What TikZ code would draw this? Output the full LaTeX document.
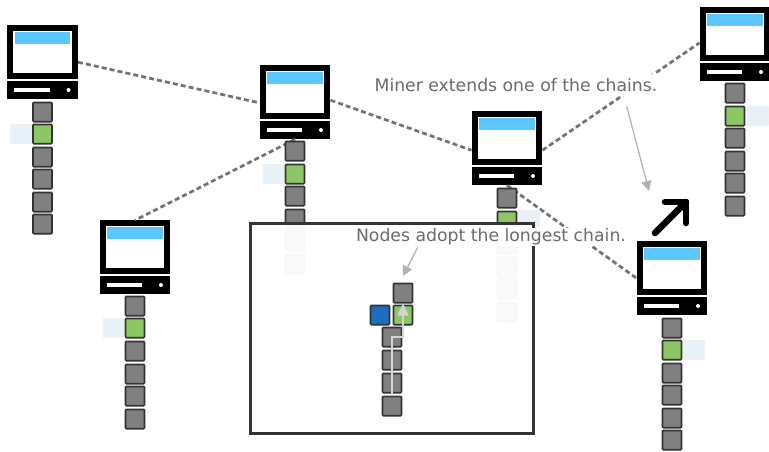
\documentclass[tikz,border=0pt]{standalone}
\usepackage{fontspec}
\setmainfont{DejaVu Sans}
\usetikzlibrary{arrows.meta}
\definecolor{screenblue}{RGB}{92,198,255}
\definecolor{blockgreen}{RGB}{140,198,101}
\definecolor{blockblue}{RGB}{26,111,192}
\definecolor{sideblue}{RGB}{232,240,248}
\definecolor{darkline}{RGB}{51,51,51}
\begin{document}
\begin{tikzpicture}
  [x=0.02cm,y=-0.02cm,
   monitor/.style={rectangle,draw=black,fill=white,line width=0.12cm,inner sep=0pt,minimum width=1.3cm,minimum height=0.95cm},
   bar/.style={rectangle,fill=screenblue,inner sep=0pt,minimum width=1.12cm,minimum height=0.24cm},
   case/.style={rectangle,fill=black,inner sep=0pt,minimum width=1.42cm,minimum height=0.36cm},
   slot/.style={rectangle,fill=white,inner sep=0pt,minimum width=0.72cm,minimum height=0.09cm},
   led/.style={circle,fill=white,inner sep=0pt,minimum size=0.08cm},
   block/.style={rectangle,rounded corners=0.02cm,draw=darkline,fill=gray,line width=0.035cm,inner sep=0pt,minimum size=0.385cm},
   good/.style={block,fill=blockgreen},
   mined/.style={block,fill=blockblue},
   side/.style={rectangle,draw=black!6,fill=sideblue,line width=0.02cm,inner sep=0pt,minimum width=0.42cm,minimum height=0.38cm},
   link/.style={draw=black!55,dash pattern=on 0.1cm off 0.062cm,line width=0.055cm},
   note/.style={fill=white,inner sep=0pt,text=black!58,font=\fontsize{9.82}{12}\selectfont},
   pointer/.style={draw=black!30,line width=0.025cm,-{Triangle[length=0.2cm,width=0.2cm]}},
   route/.style={draw=black!17,line width=0.04cm,-{Triangle[length=0.24cm,width=0.22cm]}}]
  \useasboundingbox (0,0) rectangle (769,451);

  % computers
  \node[monitor] (m1) at (42.5,52) {};
  \node[monitor] (m2) at (295,92) {};
  \node[monitor] (m3) at (507,138) {};
  \node[monitor] (m4) at (135,247) {};
  \node[monitor] (m5) at (672,268) {};
  \node[monitor] (m6) at (735,34) {};

  \node[case] (c1) at (42.5,90) {};
  \node[case] (c2) at (295,130) {};
  \node[case] (c3) at (507,176) {};
  \node[case] (c4) at (135,285) {};
  \node[case] (c5) at (672,306) {};
  \node[case] (c6) at (735,72) {};

  % network
  \draw[link] (m1.-16) -- (m2.197);
  \draw[link] (m2.-13) -- (m3.199);
  \draw[link] (c2.south) -- (m4.north);
  \draw[link] (m3.-19) -- (m6.194);
  \draw[link] (c3.south) -- (m5.196);

  \node[bar] (b1) at (42.5,38) {};
  \node[bar] (b2) at (295,78) {};
  \node[bar] (b3) at (507,124) {};
  \node[bar] (b4) at (135,233) {};
  \node[bar] (b5) at (672,254) {};
  \node[bar] (b6) at (735,20) {};

  \node[slot] (s1) at (32,90) {};
  \node[slot] (s2) at (284.5,130) {};
  \node[slot] (s3) at (496.5,176) {};
  \node[slot] (s4) at (124.5,285) {};
  \node[slot] (s5) at (661.5,306) {};
  \node[slot] (s6) at (724.5,72) {};

  \node[led] (l1) at (68.5,90) {};
  \node[led] (l2) at (321,130) {};
  \node[led] (l3) at (533,176) {};
  \node[led] (l4) at (161,285) {};
  \node[led] (l5) at (698,306) {};
  \node[led] (l6) at (761,72) {};

  % chains
  \node[side] (t1) at (21,134) {};
  \node[side] (t2) at (273.5,174) {};
  \node[side] (t3) at (529,220) {};
  \node[side] (t4) at (113.5,328) {};
  \node[side] (t5) at (694,350) {};
  \node[side] (t6) at (758,116) {};

  \node[block] (11) at (42.5,112) {};
  \node[good]  (12) at (42.5,134) {};
  \node[block] (13) at (42.5,157) {};
  \node[block] (14) at (42.5,179) {};
  \node[block] (15) at (42.5,202) {};
  \node[block] (16) at (42.5,224) {};

  \node[block] (21) at (295,151) {};
  \node[good]  (22) at (295,174) {};
  \node[block] (23) at (295,196) {};
  \node[block] (24) at (295,219) {};
  \node[block] (25) at (295,241) {};
  \node[block] (26) at (295,264) {};

  \node[block] (31) at (507,198) {};
  \node[good]  (32) at (507,221) {};
  \node[block] (33) at (507,244) {};
  \node[block] (34) at (507,267) {};
  \node[block] (35) at (507,289) {};
  \node[block] (36) at (507,312) {};

  \node[block] (41) at (135,306) {};
  \node[good]  (42) at (135,328) {};
  \node[block] (43) at (135,351) {};
  \node[block] (44) at (135,374) {};
  \node[block] (45) at (135,396) {};
  \node[block] (46) at (135,419) {};

  \node[block] (51) at (672,328) {};
  \node[good]  (52) at (672,350) {};
  \node[block] (53) at (672,373) {};
  \node[block] (54) at (672,395) {};
  \node[block] (55) at (672,418) {};
  \node[block] (56) at (672,440) {};

  \node[block] (61) at (735,93) {};
  \node[good]  (62) at (735,116) {};
  \node[block] (63) at (735,138) {};
  \node[block] (64) at (735,161) {};
  \node[block] (65) at (735,183) {};
  \node[block] (66) at (735,206) {};

  % miner arrow
  \coordinate (up1) at (655,233);
  \coordinate (up2) at (686,202);
  \coordinate (up3) at (665,202);
  \coordinate (up4) at (686,223);
  \draw[line width=0.13cm,line cap=round,line join=round] (up1) -- (up2);
  \draw[line width=0.13cm,line cap=round,line join=round] (up3) -- (up2) -- (up4);

  % inset
  \node[rectangle,draw=darkline,fill=white,fill opacity=0.96,draw opacity=1,line width=0.06cm,inner sep=0pt,minimum width=5.66cm,minimum height=4.22cm] (inset) at (392,328.5) {};

  \node[block] (71) at (403,293) {};
  \node[good]  (72) at (403,315) {};
  \node[mined] (73) at (380,315) {};
  \node[block] (74) at (392,337) {};
  \node[block] (75) at (392,360) {};
  \node[block] (76) at (392,383) {};
  \node[block] (77) at (392,406) {};
  \draw[route] (77.north) -- (74.center) -| (71.south);

  % notes
  \node[note,minimum height=0.44cm] (miner) at (516,85) {Miner extends one of the chains.};
  \node[note,minimum height=0.36cm] (adopt) at (491,236.5) {Nodes adopt the longest chain.};
  \coordinate (minertip) at (649,191);
  \coordinate (adopttip) at (403,276);
  \draw[pointer] ([xshift=-0.62cm,yshift=-0.2cm]miner.south east) -- (minertip);
  \draw[pointer] ([xshift=1.24cm,yshift=-0.03cm]adopt.south west) -- (adopttip);
\end{tikzpicture}
\end{document}
